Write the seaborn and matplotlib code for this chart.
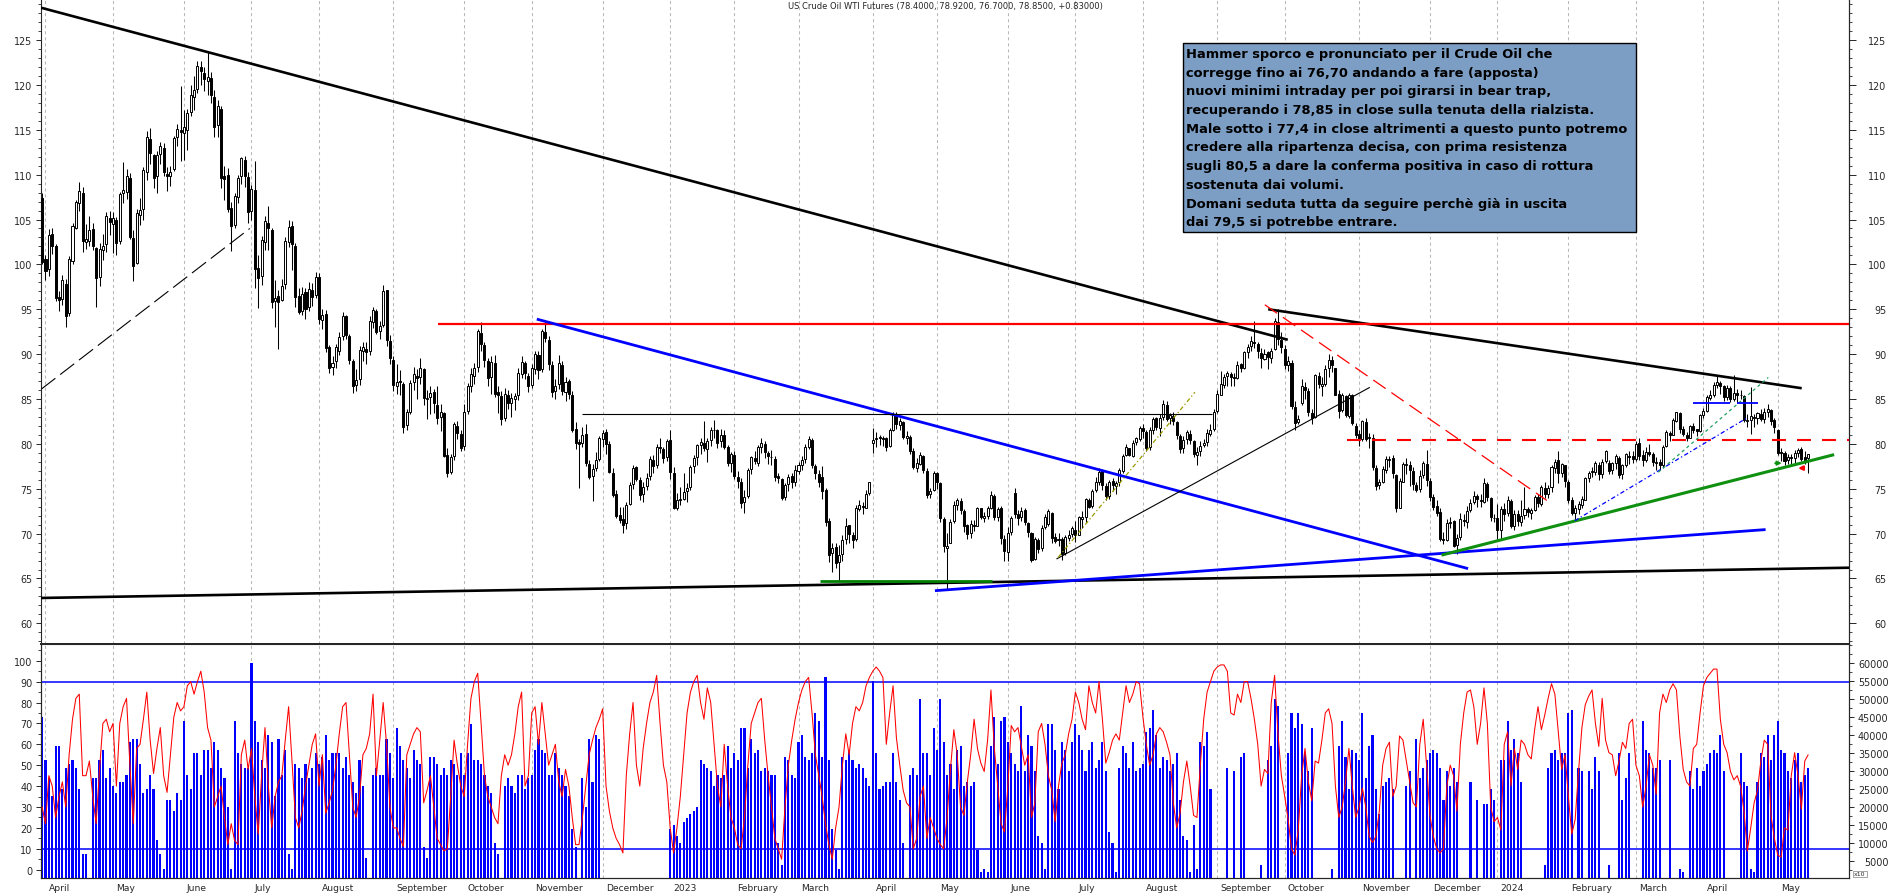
import numpy as np
import matplotlib
matplotlib.use("Agg")
import matplotlib.pyplot as plt
import seaborn as sns
from matplotlib.patches import Rectangle
from matplotlib.ticker import MultipleLocator

sns.set_style("white")
plt.rcParams['font.family'] = ['DejaVu Sans']

# ---------------- data (one inner list per month, Mar-2022 .. May-2024) ----------------
month_labels = ["", "April", "May", "June", "July", "August", "September", "October", "November",
                "December", "2023", "February", "March", "April", "May", "June", "July", "August",
                "September", "October", "November", "December", "2024", "February", "March", "April", "May"]

open_m = [
 [107.4],
 [100.6, 99.5, 103.4, 102.1, 96.4, 96.1, 97.8, 94.6, 100.4, 104.0, 106.8, 108.0, 102.5, 102.6, 103.9, 101.8, 98.6, 101.6, 102.3, 105.2],
 [104.5, 105.0, 102.6, 107.9, 108.1, 109.6, 102.9, 100.1, 105.5, 106.2, 110.3, 114.0, 112.2, 109.8, 112.3, 113.0, 110.1, 109.9, 110.6, 114.2, 115.0],
 [114.6, 115.0, 117.0, 118.6, 119.5, 122.0, 121.3, 120.4, 120.8, 118.6, 115.5, 117.3, 109.8, 110.0, 106.3, 104.4, 107.5, 109.8, 111.6, 109.7],
 [105.9, 108.3, 99.6, 98.7, 102.5, 104.6, 103.8, 95.9, 96.5, 96.0, 97.8, 102.5, 104.3, 102.1, 96.5, 94.8, 96.9, 95.2, 97.1, 96.6],
 [98.6, 93.8, 94.5, 90.8, 88.6, 89.2, 90.4, 92.0, 94.2, 92.0, 89.2, 86.6, 87.2, 90.4, 90.6, 90.4, 93.6, 94.8, 92.6, 93.3, 97.1, 91.5],
 [89.4, 86.5, 87.0, 86.7, 82.1, 83.6, 86.9, 87.6, 87.4, 88.3, 85.0, 85.2, 85.8, 84.3, 83.0, 83.4, 78.8, 76.9, 78.6, 82.0, 81.1],
 [79.8, 83.7, 86.4, 87.6, 88.6, 92.4, 91.0, 89.2, 87.4, 89.0, 85.8, 85.3, 82.9, 85.4, 84.6, 85.0, 85.4, 87.8, 89.0, 87.6],
 [86.6, 88.3, 89.9, 88.3, 92.5, 91.6, 88.8, 85.9, 86.7, 88.8, 85.8, 87.0, 85.5, 81.7, 80.2, 80.1, 81.1, 77.8, 76.4, 77.3, 78.3],
 [80.5, 81.3, 80.0, 76.8, 74.4, 72.1, 71.6, 71.2, 73.3, 75.5, 77.4, 76.0, 74.4, 75.3, 76.4, 78.2, 77.6, 79.7, 79.4, 78.5],
 [80.4, 76.8, 72.9, 73.8, 73.9, 74.7, 75.2, 77.5, 78.5, 79.9, 80.1, 79.4, 80.4, 81.5, 81.6, 80.3, 81.0, 79.6, 77.9],
 [78.8, 76.3, 75.8, 73.5, 74.2, 77.2, 78.4, 77.9, 79.6, 80.0, 79.0, 78.5, 78.3, 76.4, 76.1, 74.1, 75.5, 76.4, 75.8],
 [77.0, 77.6, 78.3, 79.7, 80.4, 77.5, 76.6, 76.3, 74.9, 71.4, 67.8, 68.5, 66.8, 67.7, 69.4, 71.0, 69.8, 69.4, 72.7, 73.1, 72.9, 74.5],
 [80.1, 80.5, 80.8, 80.5, 80.6, 79.8, 81.6, 83.2, 82.1, 82.4, 80.7, 80.8, 79.2, 77.3, 77.8, 78.6, 77.0, 74.4, 74.9],
 [76.7, 75.6, 71.6, 68.4, 69.0, 71.4, 73.2, 73.6, 72.5, 71.0, 70.1, 71.0, 70.9, 72.8, 71.7, 72.0, 72.9, 74.2, 71.9, 72.9, 69.4],
 [68.0, 70.2, 74.5, 72.2, 71.8, 72.6, 71.2, 70.1, 67.2, 69.3, 68.4, 70.7, 71.1, 72.3, 69.6, 69.3, 69.4, 67.8, 69.5, 70.0],
 [70.4, 69.9, 71.6, 71.9, 73.8, 73.1, 74.9, 75.7, 77.0, 75.3, 74.2, 75.9, 75.3, 75.7, 77.0, 78.8, 79.5, 78.7, 80.2, 80.5],
 [81.8, 81.3, 79.6, 81.6, 82.9, 81.8, 83.0, 84.3, 82.9, 83.1, 82.4, 80.9, 79.5, 80.5, 81.1, 80.3, 78.8, 79.2, 79.9, 80.2, 81.1, 81.7],
 [83.7, 85.5, 86.6, 87.6, 87.8, 87.4, 87.3, 88.9, 88.5, 90.2, 90.9, 91.4, 91.1, 90.1, 89.5, 90.2, 89.6, 90.6, 93.6, 91.6],
 [90.6, 88.8, 89.0, 84.1, 82.4, 84.5, 86.3, 85.9, 83.4, 83.0, 87.6, 86.5, 86.7, 88.4, 89.3, 88.5, 85.6, 83.8, 85.3, 83.1, 85.4, 82.0],
 [81.1, 80.5, 82.4, 80.6, 80.7, 77.3, 75.4, 75.8, 77.1, 78.2, 78.4, 76.5, 72.9, 75.8, 77.7, 77.6, 77.0, 75.4, 75.0, 76.5, 77.8],
 [75.9, 74.1, 73.1, 72.4, 69.4, 69.3, 71.2, 71.4, 68.7, 69.6, 71.5, 71.3, 72.6, 73.5, 74.2, 73.8, 73.5, 75.5, 74.0, 71.7],
 [71.7, 70.4, 72.7, 72.3, 73.6, 70.8, 72.2, 71.3, 72.1, 72.7, 72.3, 72.6, 74.1, 73.3, 75.1, 74.4, 75.2, 77.3, 78.2, 76.7, 77.6],
 [75.8, 73.8, 72.3, 72.7, 73.2, 73.8, 76.2, 76.9, 76.9, 77.7, 76.6, 78.1, 77.9, 77.1, 77.9, 78.4, 76.6, 77.6, 78.7, 78.6],
 [78.3, 80.1, 78.8, 78.2, 79.1, 78.9, 77.9, 78.0, 77.6, 79.8, 81.2, 81.0, 82.6, 83.4, 81.7, 81.0, 80.7, 82.0, 81.7, 81.4],
 [83.2, 83.7, 85.1, 85.4, 86.6, 86.8, 86.4, 85.2, 86.2, 85.0, 85.7, 85.5, 85.3, 82.6, 82.7, 83.0, 82.9, 83.3, 82.8, 83.6, 83.8, 82.7],
 [81.6, 79.1, 79.0, 78.2, 78.5, 78.4, 79.0, 79.4, 78.5, 78.4],
]
high_m = [
 [108.0],
 [101.0, 103.9, 104.1, 102.3, 97.0, 98.8, 98.4, 100.9, 104.6, 107.2, 109.2, 108.6, 104.5, 105.4, 104.6, 101.9, 102.4, 103.4, 105.8, 106.0],
 [105.8, 105.3, 108.1, 111.4, 110.6, 110.2, 103.8, 106.2, 107.4, 110.8, 114.9, 115.2, 112.3, 112.6, 113.6, 113.5, 110.8, 111.0, 114.3, 115.6, 119.9],
 [117.2, 117.3, 120.0, 121.0, 122.7, 122.7, 122.0, 123.7, 121.4, 119.4, 118.3, 117.7, 111.0, 110.7, 106.9, 108.0, 110.0, 112.0, 112.1, 110.3],
 [108.9, 111.5, 101.1, 103.2, 105.4, 106.5, 104.0, 98.3, 97.1, 98.4, 103.1, 104.9, 104.8, 102.4, 97.4, 97.5, 97.4, 98.0, 97.9, 99.2],
 [99.0, 95.0, 94.9, 91.0, 89.8, 91.1, 92.5, 94.7, 94.4, 92.2, 89.5, 88.3, 90.9, 91.3, 91.4, 94.2, 95.3, 95.0, 93.7, 97.7, 97.2, 92.1],
 [89.8, 88.9, 88.2, 86.9, 83.9, 87.1, 88.6, 88.3, 89.6, 88.4, 86.0, 86.4, 86.1, 86.4, 84.4, 83.5, 79.5, 78.9, 82.4, 82.5, 81.6],
 [84.4, 86.8, 88.4, 89.0, 92.8, 93.6, 91.3, 89.6, 89.8, 89.9, 86.4, 85.9, 86.2, 86.0, 85.7, 85.7, 88.4, 89.8, 89.2, 87.9],
 [88.9, 90.4, 90.3, 92.8, 93.7, 92.0, 89.2, 87.2, 89.9, 89.2, 87.5, 87.2, 85.9, 82.4, 80.5, 81.9, 82.2, 78.2, 77.8, 79.1, 80.9],
 [81.5, 81.7, 80.3, 77.3, 74.9, 73.0, 73.0, 73.5, 75.7, 77.6, 77.5, 76.3, 75.7, 76.7, 78.6, 78.8, 80.0, 80.6, 79.7, 80.5],
 [81.5, 77.4, 74.5, 75.2, 76.7, 75.6, 77.6, 78.8, 80.0, 80.6, 82.5, 80.6, 81.9, 82.7, 81.7, 81.7, 81.5, 79.9, 79.1],
 [79.2, 77.0, 76.2, 74.9, 77.3, 78.7, 79.2, 79.9, 80.6, 80.3, 79.2, 79.3, 78.6, 76.8, 76.2, 75.6, 76.6, 76.8, 77.6],
 [78.0, 78.6, 80.0, 80.9, 80.7, 77.8, 77.1, 77.5, 75.1, 71.7, 69.0, 69.0, 68.7, 69.8, 71.7, 70.9, 70.2, 73.2, 73.8, 73.5, 74.9, 75.8],
 [81.8, 81.3, 81.0, 80.9, 80.8, 81.8, 83.5, 83.5, 82.9, 82.6, 81.4, 81.0, 79.5, 78.4, 79.1, 78.8, 77.3, 75.1, 77.0],
 [76.9, 75.8, 71.8, 70.1, 71.6, 73.6, 74.0, 74.0, 72.7, 71.1, 71.5, 71.5, 73.0, 72.9, 72.4, 73.1, 74.7, 74.4, 73.0, 73.1, 69.9],
 [70.7, 72.0, 75.1, 72.6, 73.0, 72.8, 71.3, 70.2, 69.6, 69.5, 71.0, 72.2, 72.7, 72.4, 70.1, 70.1, 69.6, 69.8, 70.4, 70.9],
 [71.4, 72.0, 72.5, 74.0, 74.0, 75.0, 76.3, 77.3, 77.2, 75.6, 76.0, 76.2, 75.9, 77.3, 78.9, 80.0, 79.5, 80.4, 80.8, 82.0],
 [82.2, 81.6, 81.9, 83.0, 83.0, 83.3, 84.9, 84.8, 83.4, 83.5, 82.6, 81.1, 80.9, 81.6, 81.6, 80.4, 79.6, 80.3, 80.5, 81.7, 82.2, 83.9],
 [86.0, 88.1, 87.8, 88.1, 88.0, 87.9, 89.2, 89.0, 90.4, 91.1, 92.0, 93.7, 91.4, 90.7, 90.6, 90.4, 90.7, 94.0, 95.0, 92.5],
 [91.0, 89.8, 89.3, 84.8, 83.2, 87.2, 86.9, 86.2, 83.9, 87.8, 88.0, 87.5, 88.8, 90.0, 89.8, 88.5, 86.0, 85.7, 85.5, 85.7, 85.6, 82.3],
 [81.6, 82.7, 82.9, 81.2, 81.1, 77.6, 76.1, 77.5, 78.7, 78.7, 78.8, 76.6, 76.2, 78.0, 78.4, 78.1, 77.4, 75.7, 77.1, 78.1, 79.3],
 [76.2, 74.4, 73.8, 72.8, 70.2, 71.6, 71.8, 71.5, 70.0, 72.3, 72.2, 73.1, 73.9, 74.7, 74.4, 74.4, 76.2, 75.7, 74.1, 72.2],
 [73.3, 73.1, 73.4, 74.2, 73.9, 72.6, 72.6, 73.7, 75.2, 73.0, 72.9, 74.3, 74.4, 75.4, 75.7, 75.4, 77.6, 78.3, 79.2, 77.9, 77.7],
 [76.0, 74.1, 73.2, 73.6, 74.2, 76.3, 77.0, 77.4, 78.1, 78.0, 78.3, 79.3, 78.2, 78.0, 78.9, 78.6, 77.8, 79.0, 79.2, 79.2],
 [80.3, 80.6, 79.3, 79.6, 80.0, 79.1, 78.5, 78.3, 79.9, 81.6, 81.4, 82.9, 83.6, 83.5, 82.0, 81.3, 82.1, 82.3, 81.7, 83.3],
 [84.0, 85.5, 86.0, 86.9, 87.7, 87.0, 86.6, 86.6, 86.5, 87.7, 86.1, 86.0, 85.5, 83.3, 86.3, 83.3, 83.6, 83.9, 84.0, 84.4, 83.9, 82.9],
 [81.7, 79.5, 79.2, 78.9, 78.9, 79.3, 79.5, 79.6, 79.2, 78.92],
]
low_m = [
 [100.0],
 [98.3, 98.7, 101.2, 95.9, 94.8, 95.5, 93.0, 94.3, 100.0, 103.9, 106.0, 101.4, 101.7, 102.1, 101.6, 95.3, 97.6, 100.5, 101.4, 103.3],
 [101.3, 101.0, 102.3, 106.8, 107.3, 102.8, 98.2, 100.0, 104.4, 105.0, 109.4, 111.2, 108.5, 108.0, 111.2, 109.8, 108.2, 108.7, 110.4, 113.2, 111.5],
 [111.6, 112.8, 116.5, 117.2, 119.1, 120.0, 119.3, 118.9, 118.0, 114.2, 114.2, 108.5, 107.2, 105.8, 101.5, 104.0, 106.8, 109.0, 108.6, 104.6],
 [104.9, 97.4, 95.1, 97.7, 101.6, 101.6, 95.1, 93.0, 90.6, 95.9, 97.3, 101.9, 99.4, 95.3, 94.5, 94.4, 93.9, 94.8, 95.4, 96.3],
 [93.4, 92.8, 90.2, 87.9, 87.7, 88.4, 89.9, 91.6, 91.7, 88.9, 85.7, 85.9, 86.6, 89.2, 88.9, 89.9, 92.9, 92.2, 91.7, 93.0, 90.9, 88.9],
 [85.9, 85.6, 85.4, 81.2, 81.5, 83.3, 86.0, 85.0, 86.7, 84.3, 82.8, 83.3, 83.4, 82.2, 81.4, 78.5, 76.3, 76.6, 78.2, 80.5, 79.2],
 [79.3, 83.3, 85.8, 86.7, 88.0, 90.4, 88.6, 86.4, 85.6, 85.2, 83.4, 82.1, 82.6, 83.9, 83.0, 83.8, 84.9, 87.3, 87.2, 85.8],
 [86.2, 87.8, 87.2, 88.0, 91.4, 88.2, 85.2, 85.0, 86.1, 85.5, 84.8, 85.0, 81.3, 79.4, 75.1, 79.7, 77.5, 76.1, 73.6, 77.0, 78.1],
 [79.6, 78.9, 76.8, 74.1, 71.7, 71.2, 70.1, 70.5, 73.2, 75.0, 75.9, 73.7, 73.5, 74.9, 76.0, 76.8, 77.3, 79.0, 77.9, 78.1],
 [76.1, 72.7, 72.6, 73.2, 73.7, 73.5, 74.9, 76.8, 77.7, 78.9, 79.2, 78.0, 79.8, 80.6, 79.5, 79.6, 79.4, 77.5, 76.9],
 [76.1, 75.1, 72.9, 72.3, 74.0, 76.6, 77.8, 77.5, 79.0, 78.4, 77.8, 77.6, 75.9, 75.6, 73.8, 73.8, 74.7, 75.1, 75.3],
 [76.6, 77.1, 77.9, 79.4, 77.3, 76.1, 75.2, 73.9, 70.9, 66.8, 65.7, 66.2, 64.7, 67.0, 68.8, 69.0, 68.4, 69.2, 72.5, 72.2, 72.8, 74.3],
 [79.0, 79.6, 79.9, 79.8, 79.2, 79.6, 81.4, 81.7, 81.6, 80.5, 80.0, 78.9, 77.2, 76.9, 77.7, 76.8, 74.0, 74.0, 74.7],
 [75.0, 71.3, 67.9, 63.7, 68.9, 71.2, 72.6, 72.2, 70.2, 69.4, 69.5, 70.3, 70.8, 71.6, 71.3, 71.6, 72.7, 71.5, 71.4, 68.8, 67.0],
 [67.0, 69.9, 71.7, 71.0, 71.4, 71.0, 69.6, 66.8, 67.1, 67.8, 68.1, 70.5, 70.8, 69.0, 68.9, 68.6, 67.1, 67.6, 69.2, 69.6],
 [69.1, 69.8, 70.6, 71.3, 72.9, 72.8, 74.6, 75.4, 74.9, 73.8, 73.9, 74.8, 74.4, 75.3, 76.8, 78.6, 78.6, 78.5, 79.9, 80.3],
 [80.6, 79.2, 79.3, 81.1, 81.5, 80.9, 82.7, 82.5, 82.2, 82.1, 80.5, 79.0, 79.0, 80.0, 80.0, 78.5, 77.6, 78.7, 79.6, 79.8, 80.9, 81.4],
 [83.4, 85.4, 86.2, 86.5, 86.5, 86.4, 87.2, 88.0, 88.3, 89.6, 90.3, 90.7, 89.6, 88.5, 89.3, 88.3, 89.0, 90.5, 91.0, 90.1],
 [88.3, 88.1, 83.9, 81.5, 82.2, 84.3, 85.0, 83.1, 82.2, 82.9, 86.2, 85.3, 86.4, 87.5, 88.0, 85.4, 82.9, 83.5, 83.0, 82.9, 82.1, 80.6],
 [79.8, 80.3, 80.3, 79.5, 77.1, 74.9, 75.0, 75.6, 76.8, 77.4, 76.2, 72.4, 72.8, 75.7, 76.6, 75.3, 74.9, 74.6, 74.6, 76.2, 75.3],
 [73.6, 72.6, 72.0, 69.2, 68.8, 69.2, 70.6, 68.5, 67.7, 69.3, 70.9, 70.6, 72.4, 73.3, 73.0, 73.0, 73.4, 73.6, 71.4, 71.3],
 [69.4, 69.3, 71.4, 72.0, 70.6, 70.4, 70.8, 70.9, 71.6, 71.9, 71.6, 72.5, 73.0, 73.1, 74.0, 74.0, 74.6, 76.8, 75.6, 76.3, 75.2],
 [73.4, 72.1, 71.4, 72.2, 72.8, 73.8, 75.8, 76.3, 76.5, 76.0, 76.2, 77.9, 76.6, 76.6, 77.2, 76.2, 76.1, 77.4, 77.8, 77.9],
 [78.1, 78.2, 77.5, 78.0, 78.6, 77.5, 77.1, 77.1, 77.4, 79.7, 80.3, 81.0, 82.4, 81.2, 80.9, 80.3, 80.6, 81.2, 80.9, 81.3],
 [82.9, 83.5, 84.9, 85.2, 86.2, 85.6, 84.8, 84.9, 84.7, 84.8, 84.6, 85.0, 82.4, 81.9, 81.1, 81.9, 82.2, 82.5, 82.3, 83.0, 82.1, 81.2],
 [78.8, 78.1, 77.6, 77.8, 77.7, 77.6, 78.5, 78.1, 77.8, 76.70],
]
close_m = [
 [100.3],
 [99.3, 103.3, 102.0, 96.2, 96.0, 98.3, 94.3, 100.6, 104.3, 107.0, 108.2, 102.6, 102.8, 103.8, 102.1, 98.5, 101.7, 102.0, 105.4, 104.7],
 [105.2, 102.4, 107.8, 108.3, 109.8, 103.1, 99.8, 105.7, 106.1, 110.5, 114.2, 112.4, 109.6, 112.2, 113.2, 110.3, 109.8, 110.3, 114.1, 115.1, 114.7],
 [115.3, 116.9, 118.9, 119.4, 122.1, 121.5, 120.7, 120.9, 118.9, 115.3, 117.6, 109.6, 109.5, 106.2, 104.3, 107.6, 109.6, 111.8, 109.8, 105.8],
 [108.4, 99.5, 98.5, 102.7, 104.8, 104.1, 95.8, 96.3, 95.8, 97.6, 102.6, 104.2, 102.3, 96.4, 94.7, 96.7, 95.0, 97.3, 96.4, 98.6],
 [93.9, 94.4, 90.7, 88.5, 89.0, 90.8, 91.9, 94.3, 92.1, 89.4, 86.5, 87.1, 90.5, 90.8, 90.2, 93.7, 94.9, 92.5, 93.1, 97.0, 91.6, 89.6],
 [86.6, 86.9, 86.9, 81.9, 83.5, 86.8, 87.8, 87.3, 88.5, 85.1, 85.1, 85.7, 84.5, 82.9, 83.5, 78.7, 76.7, 78.5, 82.2, 81.2, 79.5],
 [83.6, 86.5, 87.8, 88.5, 92.6, 91.1, 89.4, 87.3, 89.1, 85.6, 85.5, 82.8, 85.6, 84.5, 85.1, 85.3, 87.9, 89.1, 87.9, 86.5],
 [88.4, 90.0, 88.2, 92.6, 91.8, 88.9, 85.8, 86.5, 89.0, 85.9, 86.9, 85.6, 81.6, 80.1, 80.0, 81.0, 77.9, 76.3, 77.2, 78.2, 80.6],
 [81.2, 80.0, 76.9, 74.3, 72.0, 71.5, 71.0, 73.2, 75.4, 77.3, 76.1, 74.3, 75.2, 76.2, 78.3, 77.5, 79.6, 79.5, 78.4, 80.3],
 [76.9, 72.8, 73.7, 73.8, 74.6, 75.1, 77.4, 78.4, 79.9, 80.2, 79.5, 80.3, 81.6, 81.6, 80.1, 81.0, 79.7, 77.9, 78.9],
 [76.4, 75.9, 73.4, 74.1, 77.1, 78.5, 78.1, 79.7, 80.1, 79.1, 78.6, 78.5, 76.3, 76.2, 74.0, 75.4, 76.3, 75.7, 77.1],
 [77.7, 78.2, 79.7, 80.5, 77.6, 76.7, 75.7, 74.8, 71.3, 67.6, 68.4, 66.7, 67.6, 69.3, 70.9, 70.0, 69.3, 72.8, 73.2, 73.0, 74.4, 75.7],
 [80.4, 80.7, 80.6, 80.7, 79.7, 81.5, 83.3, 82.2, 82.5, 80.8, 80.9, 79.2, 77.4, 77.9, 78.8, 77.1, 74.3, 74.8, 76.8],
 [75.7, 71.7, 68.6, 68.6, 71.3, 73.2, 73.7, 72.6, 70.9, 70.0, 71.1, 70.9, 72.8, 71.9, 72.0, 72.9, 74.3, 71.8, 72.7, 69.5, 68.1],
 [70.1, 71.7, 72.2, 71.7, 72.5, 71.3, 70.2, 67.1, 69.4, 68.3, 70.6, 71.8, 72.5, 69.5, 69.2, 69.4, 67.7, 69.6, 69.9, 70.6],
 [69.8, 71.8, 71.8, 73.9, 73.0, 74.8, 75.8, 76.9, 75.4, 74.2, 75.8, 75.4, 75.6, 77.1, 78.7, 79.6, 78.8, 80.1, 80.6, 81.8],
 [81.4, 79.5, 81.6, 82.8, 81.9, 82.9, 84.4, 82.8, 83.2, 82.5, 81.0, 79.4, 80.4, 81.3, 80.4, 78.9, 79.1, 79.8, 80.1, 81.2, 81.6, 83.6],
 [85.6, 86.7, 87.5, 87.9, 87.5, 87.3, 88.8, 88.5, 90.2, 90.8, 91.5, 91.2, 90.3, 89.6, 90.0, 89.7, 90.4, 93.7, 91.7, 90.8],
 [88.8, 89.2, 84.2, 82.3, 82.8, 86.4, 86.0, 83.5, 82.9, 87.7, 86.7, 86.7, 88.3, 89.4, 88.8, 85.5, 83.7, 85.4, 83.2, 85.5, 82.3, 81.0],
 [80.4, 82.5, 80.5, 80.8, 77.4, 75.3, 75.7, 77.2, 78.3, 78.3, 76.7, 72.9, 75.9, 77.8, 77.8, 77.1, 75.5, 74.9, 76.4, 77.9, 76.0],
 [74.1, 73.0, 72.3, 69.4, 69.3, 71.2, 71.3, 68.6, 69.5, 71.6, 71.4, 72.5, 73.4, 74.2, 73.9, 73.6, 75.6, 74.1, 71.8, 71.7],
 [70.4, 72.7, 72.2, 73.8, 70.8, 72.2, 71.4, 72.0, 72.7, 72.4, 72.6, 74.1, 73.4, 75.2, 74.4, 75.1, 77.4, 78.0, 76.8, 77.8, 75.9],
 [73.8, 72.3, 72.8, 73.3, 73.9, 76.2, 76.8, 76.9, 77.9, 76.6, 78.0, 79.2, 77.0, 77.9, 78.6, 76.5, 77.6, 78.9, 78.5, 78.3],
 [80.0, 78.7, 78.2, 79.1, 78.9, 78.0, 77.9, 77.6, 79.7, 81.3, 81.0, 82.7, 83.5, 81.7, 81.1, 80.6, 82.0, 81.6, 81.4, 83.2],
 [83.7, 85.2, 85.4, 86.6, 86.9, 86.4, 85.2, 86.2, 85.0, 85.7, 85.4, 85.4, 82.7, 82.7, 83.1, 82.9, 83.4, 82.8, 83.6, 83.9, 82.6, 81.9],
 [79.0, 79.0, 78.1, 78.5, 78.4, 79.0, 79.3, 78.3, 78.02, 78.85],
]
# oscillator (red line, left scale 0-100)
osc_m = [
 [30],
 [22, 45, 40, 25, 35, 42, 30, 55, 72, 82, 84, 45, 45, 52, 35, 22, 48, 70, 72, 66],
 [70, 40, 70, 78, 82, 50, 22, 58, 60, 72, 85, 62, 46, 58, 68, 45, 37, 55, 73, 80, 76],
 [78, 88, 90, 84, 90, 95, 85, 68, 62, 30, 35, 40, 25, 12, 22, 14, 12, 55, 62, 48],
 [58, 35, 17, 45, 68, 40, 20, 35, 42, 45, 62, 78, 52, 25, 20, 28, 40, 50, 60, 65],
 [40, 55, 27, 32, 38, 50, 65, 78, 80, 55, 30, 25, 35, 55, 58, 65, 84, 45, 62, 80, 60, 30],
 [20, 20, 15, 11, 55, 60, 65, 68, 66, 32, 38, 45, 30, 15, 12, 9, 10, 35, 62, 50, 40],
 [35, 60, 82, 90, 94, 70, 45, 35, 30, 25, 22, 45, 55, 50, 55, 65, 78, 85, 40, 45],
 [75, 78, 60, 80, 65, 50, 55, 60, 42, 35, 48, 40, 25, 12, 12, 25, 40, 55, 62, 68, 72],
 [77, 40, 28, 20, 15, 12, 8, 45, 65, 80, 50, 40, 58, 70, 80, 85, 93, 70, 50, 42],
 [20, 8, 20, 35, 55, 75, 85, 90, 93, 80, 72, 87, 80, 60, 40, 30, 60, 40, 25],
 [20, 12, 10, 25, 50, 70, 75, 80, 82, 62, 45, 30, 15, 10, 5, 30, 50, 62, 72],
 [80, 86, 90, 92, 75, 55, 45, 35, 22, 12, 5, 20, 30, 50, 65, 55, 70, 78, 76, 80, 88, 92],
 [95, 97, 95, 92, 60, 75, 88, 63, 50, 38, 32, 30, 10, 15, 35, 40, 15, 25, 20],
 [15, 12, 10, 25, 48, 67, 55, 30, 26, 42, 55, 72, 58, 51, 47, 62, 86, 58, 40, 22, 18],
 [40, 69, 66, 68, 59, 50, 55, 25, 32, 66, 70, 60, 45, 38, 23, 40, 51, 55, 65, 72],
 [85, 80, 72, 67, 88, 80, 75, 90, 72, 51, 56, 62, 65, 62, 75, 88, 80, 84, 90, 89],
 [73, 60, 50, 55, 65, 68, 66, 61, 55, 32, 20, 27, 42, 52, 40, 26, 25, 50, 72, 85, 90, 95],
 [97, 98, 98, 95, 75, 74, 84, 80, 90, 90, 82, 72, 60, 40, 48, 46, 80, 93, 65, 45],
 [35, 24, 10, 7, 19, 45, 58, 42, 33, 52, 51, 62, 75, 77, 70, 40, 25, 30, 42, 58, 40, 25],
 [30, 39, 30, 16, 13, 16, 28, 50, 58, 61, 35, 40, 64, 62, 52, 42, 32, 30, 60, 72, 50],
 [26, 16, 10, 8, 10, 40, 50, 45, 28, 60, 75, 85, 86, 78, 60, 70, 87, 70, 30, 23],
 [25, 19, 60, 66, 40, 58, 48, 62, 60, 55, 53, 67, 78, 67, 74, 82, 89, 84, 66, 48, 55],
 [35, 17, 24, 47, 68, 79, 83, 86, 70, 59, 82, 62, 56, 55, 45, 52, 61, 58, 70, 72],
 [50, 45, 30, 40, 55, 50, 36, 75, 84, 80, 86, 89, 86, 64, 48, 42, 40, 58, 60, 75],
 [88, 92, 94, 96, 96, 72, 60, 56, 47, 43, 45, 40, 28, 9, 20, 32, 38, 52, 62, 60, 26, 15],
 [7, 6, 20, 19, 45, 56, 45, 29, 52, 55],
]
# volume in thousands (right scale, x10)
vol_m = [
 [45],
 [33, 28, 23, 37, 37, 25, 31, 32, 33, 31, 25, 7, 7, 0, 28, 28, 33, 36, 28, 31],
 [26, 24, 27, 27, 29, 38, 39, 39, 32, 24, 25, 29, 25, 11, 7, 3, 22, 22, 19, 24, 22],
 [44, 29, 25, 35, 35, 29, 36, 36, 31, 38, 36, 31, 28, 20, 3, 44, 35, 32, 31, 31],
 [60, 44, 38, 33, 31, 40, 38, 23, 39, 29, 36, 7, 3, 32, 31, 28, 32, 28, 31, 35],
 [32, 34, 40, 33, 35, 35, 35, 31, 34, 29, 27, 24, 33, 26, 6, 0, 29, 31, 29, 29, 39, 35],
 [28, 42, 37, 33, 31, 28, 36, 33, 32, 9, 6, 34, 34, 32, 29, 31, 29, 33, 32, 29, 35],
 [29, 35, 43, 33, 33, 32, 29, 26, 24, 10, 7, 0, 26, 28, 26, 24, 29, 29, 25, 28],
 [29, 36, 39, 36, 35, 29, 29, 35, 31, 29, 26, 23, 14, 9, 0, 28, 20, 39, 27, 40, 39],
 [0, 0, 0, 0, 0, 0, 0, 0, 0, 0, 0, 0, 0, 0, 0, 0, 0, 0, 0, 0],
 [14, 15, 12, 10, 16, 17, 18, 19, 20, 33, 32, 31, 30, 26, 29, 28, 29, 37, 31],
 [35, 33, 42, 42, 31, 39, 35, 36, 30, 31, 30, 29, 29, 10, 4, 34, 33, 29, 28],
 [38, 40, 34, 33, 35, 46, 44, 34, 56, 33, 14, 8, 3, 34, 33, 36, 33, 31, 32, 31, 28, 26],
 [55, 35, 25, 26, 27, 27, 35, 27, 22, 10, 0, 29, 31, 29, 50, 35, 35, 29, 42],
 [36, 50, 38, 29, 32, 25, 36, 37, 26, 27, 26, 27, 8, 2, 3, 2, 37, 45, 32, 44, 45],
 [38, 35, 32, 30, 48, 30, 40, 37, 30, 12, 10, 3, 43, 43, 36, 25, 38, 36, 30, 38],
 [43, 40, 36, 30, 36, 38, 31, 33, 38, 30, 13, 10, 2, 31, 37, 35, 31, 38, 30, 31],
 [32, 41, 42, 47, 40, 31, 34, 33, 30, 32, 35, 22, 12, 11, 2, 15, 3, 38, 37, 41, 25, 0],
 [0, 0, 0, 31, 0, 30, 0, 34, 35, 0, 0, 0, 0, 4, 0, 33, 37, 50, 48, 0],
 [0, 35, 46, 42, 46, 43, 35, 30, 42, 0, 0, 0, 0, 0, 3, 0, 37, 44, 34, 25, 36, 35],
 [33, 46, 28, 37, 40, 25, 18, 26, 27, 28, 25, 0, 0, 0, 26, 30, 0, 39, 28, 31, 33],
 [35, 36, 35, 31, 22, 30, 26, 31, 27, 0, 0, 0, 27, 0, 22, 0, 21, 21, 25, 22],
 [0, 33, 33, 44, 36, 39, 35, 27, 0, 0, 0, 0, 0, 0, 4, 31, 35, 36, 33, 35, 35],
 [46, 47, 0, 31, 30, 0, 30, 25, 34, 30, 0, 0, 4, 0, 0, 35, 22, 28, 35, 0],
 [0, 0, 44, 36, 35, 31, 31, 33, 0, 0, 33, 0, 0, 3, 2, 0, 30, 25, 31, 26],
 [30, 32, 35, 36, 35, 40, 30, 0, 0, 0, 0, 35, 27, 26, 3, 2, 27, 35, 34, 40, 33, 40],
 [44, 36, 35, 30, 28, 33, 35, 27, 29, 31],
]

# analyst trendlines: (bar index, price) -> (bar index, price)
trend_segments = [
 ((-0.33, 128.6), (368.9, 91.6)),    # long black resistance
 ((363.1, 95.0), (521.1, 86.2)),     # black resistance 2023-24
 ((-0.33, 62.83), (535.1, 66.2)),    # black base line
 ((117.3, 93.36), (535.1, 93.36)),   # red horizontal
 ((-0.24, 86.1), (61.5, 104.0)),     # black long-dash support
 ((146.5, 93.9), (422.3, 66.1)),     # blue descending
 ((264.4, 63.64), (510.4, 70.45)),   # blue rising
 ((159.8, 83.3), (346.6, 83.3)),     # thin black horizontal
 ((230.4, 64.72), (281.2, 64.72)),   # green horizontal
 ((300.4, 67.17), (393.2, 86.3)),    # thin black rising
 ((300.9, 67.36), (341.4, 85.75)),   # olive dash-dot
 ((362.1, 95.5), (445.6, 73.7)),     # red dashed descending
 ((386.3, 80.43), (535.1, 80.43)),   # red dashed horizontal 80.5
 ((414.4, 67.6), (530.7, 78.8)),     # green rising support
 ((453.9, 71.44), (505.2, 82.96)),   # blue dash-dot rising
 ((478.6, 76.83), (511.2, 87.4)),    # green dotted rising
 ((488.9, 84.5), (499.8, 84.5)),     # blue short horizontal a
 ((502.0, 84.5), (508.2, 84.5)),     # blue short horizontal b
]
trend_styles = [
 dict(color='black', lw=1.9),
 dict(color='black', lw=1.9),
 dict(color='black', lw=1.9),
 dict(color='#ff0000', lw=1.6),
 dict(color='black', lw=0.8, ls=(0, (16, 5.4))),
 dict(color='#0000ff', lw=2.0),
 dict(color='#0000ff', lw=2.0),
 dict(color='black', lw=0.8),
 dict(color='#008000', lw=2.0),
 dict(color='black', lw=0.8),
 dict(color='#9a9a00', lw=0.9, ls=(0, (3.5, 2, 1, 2))),
 dict(color='#ff0000', lw=0.9, ls=(0, (12, 5.6))),
 dict(color='#ff0000', lw=1.5, ls=(0, (6.7, 5.3))),
 dict(color='#109010', lw=2.2),
 dict(color='#0000ff', lw=0.9, ls=(0, (3.5, 2, 1, 2))),
 dict(color='#20a060', lw=0.9, ls=(0, (2.5, 2.5))),
 dict(color='#0000ff', lw=1.3),
 dict(color='#0000ff', lw=1.3),
]

title = "US Crude Oil WTI Futures (78.4000, 78.9200, 76.7000, 78.8500, +0.83000)"
note = ("Hammer sporco e pronunciato per il Crude Oil che\n"
        "corregge fino ai 76,70 andando a fare (apposta)\n"
        "nuovi minimi intraday per poi girarsi in bear trap,\n"
        "recuperando i 78,85 in close sulla tenuta della rialzista.\n"
        "Male sotto i 77,4 in close altrimenti a questo punto potremo\n"
        "credere alla ripartenza decisa, con prima resistenza\n"
        "sugli 80,5 a dare la conferma positiva in caso di rottura\n"
        "sostenuta dai volumi.\n"
        "Domani seduta tutta da seguire perchè già in uscita\n"
        "dai 79,5 si potrebbe entrare.")

# ---------------- build ----------------
def flat(m):
    return np.array([v for mm in m for v in mm], dtype=float)

O, H, L, C = flat(open_m), flat(high_m), flat(low_m), flat(close_m)
n = len(C)

def fit(a):
    a = flat(a)
    if len(a) < n:
        a = np.concatenate([a, np.full(n - len(a), np.nan)])
    return a[:n]

OSC = fit(osc_m)
VOL = fit(vol_m) * 1000.0
x = np.arange(n)
month_len = [len(m) for m in close_m]
starts = np.cumsum([0] + month_len[:-1])
grid_idx = starts[1:]

W, HP = 1890, 895
fig = plt.figure(figsize=(W / 100, HP / 100), dpi=100)
PX0, PX1 = 41, 1849
def fx(p): return p / W
def fy(p): return 1 - p / HP

ax = fig.add_axes([fx(PX0), fy(645), (PX1 - PX0) / W, 645 / HP])
axr = ax.twinx()
axv = fig.add_axes([fx(PX0), fy(879), (PX1 - PX0) / W, (879 - 645) / HP])
axo = axv.twinx()
XL = (-0.33, 535.1)
YL = (57.7, 129.57)
TICK_FS = 6.9

grid_kw = dict(color='#b8b8b8', lw=0.75, ls=(0, (2.9, 2.9)), zorder=0)
for g in grid_idx:
    ax.axvline(g, **grid_kw)
    axv.axvline(g, **grid_kw)

# candles
up = C >= O
lo = np.minimum(O, C)
hh = np.maximum(np.abs(C - O), 0.07)
ax.vlines(x, L, H, colors='black', lw=0.75, zorder=2)
ax.bar(x[up], hh[up], bottom=lo[up], width=0.6, color='white', edgecolor='black', linewidth=0.7, zorder=3)
ax.bar(x[~up], hh[~up], bottom=lo[~up], width=0.6, color='black', edgecolor='black', linewidth=0.7, zorder=3)

for (p0, p1), st in zip(trend_segments, trend_styles):
    st = dict(st)
    ls = st.pop('ls', '-')
    ax.plot([p0[0], p1[0]], [p0[1], p1[1]], ls=ls, solid_capstyle='butt', zorder=4, **st)

ax.annotate('', xy=(516.0, 77.85), xytext=(512.4, 77.85),
            arrowprops=dict(arrowstyle='-|>', color='#109010', lw=1.3, mutation_scale=6), zorder=5)
ax.annotate('', xy=(519.2, 77.3), xytext=(522.6, 77.3),
            arrowprops=dict(arrowstyle='-|>', color='#ff0000', lw=1.6, mutation_scale=6), zorder=5)

ax.set_xlim(*XL); ax.set_ylim(*YL)
axr.set_ylim(*YL)
for a in (ax, axr):
    a.yaxis.set_major_locator(MultipleLocator(5))
    a.yaxis.set_minor_locator(MultipleLocator(1))
    a.set_xticks([])
ax.tick_params(axis='y', which='major', direction='out', length=3.6, width=0.7, pad=2.6, labelsize=TICK_FS, left=True, right=False)
ax.tick_params(axis='y', which='minor', direction='out', length=2.0, width=0.6, left=True, right=False)
axr.tick_params(axis='y', which='major', direction='out', length=5, width=0.7, pad=22, labelsize=TICK_FS)
axr.tick_params(axis='y', which='minor', direction='out', length=2.5, width=0.6)
for t in axr.get_yticklabels():
    t.set_ha('right')
ax.spines['top'].set_visible(False)
for s in ('top', 'left', 'bottom'):
    axr.spines[s].set_visible(False)
for s in ax.spines.values():
    s.set_linewidth(0.8)
ax.spines['bottom'].set_linewidth(1.4)
axr.spines['right'].set_linewidth(0.8)

# lower panel: volume bars (right scale) + oscillator (left scale)
axv.bar(x, VOL, width=0.62, color='#0000ff', linewidth=0, antialiased=False, zorder=2)
axv.set_xlim(*XL)
axv.set_ylim(367, 65270)
axv.yaxis.tick_right()
axv.yaxis.set_minor_locator(MultipleLocator(2500))
axv.set_yticks(np.arange(5000, 60001, 5000))
axv.tick_params(axis='y', which='major', direction='out', length=3.6, width=0.7, pad=24.8, labelsize=TICK_FS)
axv.tick_params(axis='y', which='minor', direction='out', length=2, width=0.6)
for t in axv.get_yticklabels():
    t.set_ha('right')
axv.set_xticks([])

sns.lineplot(x=x, y=OSC, ax=axo, color='#ff0000', linewidth=0.75, legend=False, zorder=3)
axo.axhline(90, color='#0000ff', lw=1.1, zorder=2)
axo.axhline(10, color='#0000ff', lw=1.1, zorder=2)
axo.set_ylim(-3.97, 108.0)
axo.set_xlim(*XL)
axo.yaxis.tick_left()
axo.yaxis.set_label_position('left')
axo.set_yticks(np.arange(0, 101, 10))
axo.yaxis.set_minor_locator(MultipleLocator(5))
axo.tick_params(axis='y', which='major', direction='out', length=3.6, width=0.7, pad=2.6, labelsize=TICK_FS)
axo.tick_params(axis='y', which='minor', direction='out', length=2, width=0.6)
axo.set_xticks([])
axo.set_xlabel(''); axo.set_ylabel('')
for a in (axv, axo):
    for s in a.spines.values():
        s.set_linewidth(0.8)
axv.spines['top'].set_linewidth(1.4)

# month labels
for g, lab in zip(grid_idx, month_labels[1:]):
    px = PX0 + (g - XL[0]) / (XL[1] - XL[0]) * (PX1 - PX0) + 3
    fig.text(fx(px), fy(889), lab, ha='left', va='center', fontsize=6.6)

fig.text(fx(1860), fy(875), 'x10', ha='center', va='center', fontsize=4.5,
         bbox=dict(boxstyle='square,pad=0.15', fc='white', ec='#808080', lw=0.5))

fig.text(fx(945), fy(7), title, ha='center', va='center', fontsize=6)

fig.add_artist(Rectangle((fx(1183), fy(233)), 453 / W, 189 / HP, transform=fig.transFigure,
                         facecolor='#7d9ec4', edgecolor='black', lw=1.0, zorder=5))
fig.text(fx(1186), fy(48), note, ha='left', va='top', fontsize=9.4, fontweight='bold',
         family=['DejaVu Sans'], linespacing=1.57, color='black', zorder=6)

fig.savefig('out.png', dpi=100)
